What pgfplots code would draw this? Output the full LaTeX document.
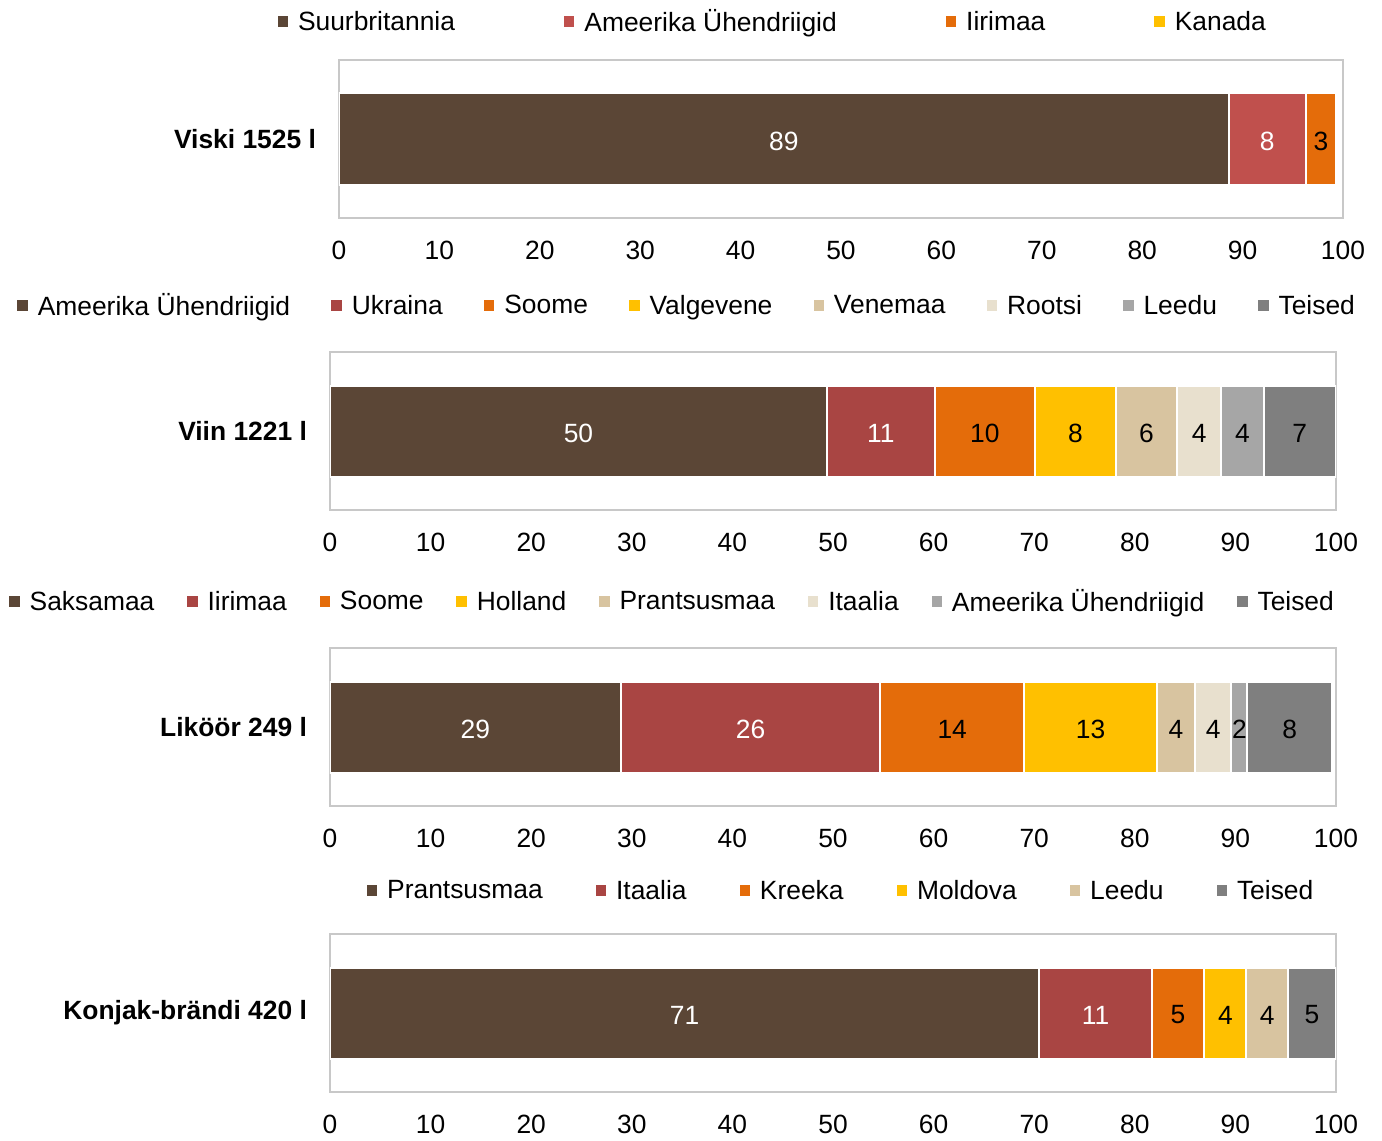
\documentclass[border=0pt]{standalone}
\usepackage{pgfplots}
\pgfplotsset{compat=1.18}
\usepackage{fontspec}
\setmainfont{Liberation Sans}

\definecolor{brownc}{RGB}{91,70,54}
\definecolor{redA}{RGB}{192,80,77}
\definecolor{redB}{RGB}{169,69,67}
\definecolor{orangec}{RGB}{228,108,10}
\definecolor{yellowc}{RGB}{255,192,0}
\definecolor{tanc}{RGB}{216,196,160}
\definecolor{beigec}{RGB}{232,224,206}
\definecolor{lgrayc}{RGB}{166,166,166}
\definecolor{dgrayc}{RGB}{127,127,127}
\definecolor{framec}{RGB}{200,200,200}

\newcommand{\fs}{\fontsize{13.2}{15.8}\selectfont}

\pgfplotsset{
  every axis plot post/.append style={
    legend image code/.code={\fill[##1,draw=none] (0pt,-2.3pt) rectangle (5.2pt,2.9pt);}},
  panel/.style={
    xbar stacked, scale only axis,
    width=503pt, height=79pt,
    xmin=0, xmax=100, ymin=-0.5, ymax=0.5,
    bar width=45.5pt,
    axis line style={draw=framec, line width=0.8pt},
    major tick length=0pt,
    xtick={0,10,...,100},
    ytick={0},
    /pgf/number format/assume math mode=true,
    tick label style={font=\fs},
    yticklabel style={font=\fs\bfseries, xshift=-8pt},
    xticklabel style={yshift=-8pt},
    legend columns=-1,
    legend style={draw=none, fill=none, font=\fs, anchor=center,
      /tikz/every odd column/.append style={column sep=3pt}},
    nodes near coords,
    point meta=explicit symbolic,
    every node near coord/.append style={anchor=center, font=\fs, yshift=-1pt},
  },
  seg/.style 2 args={fill=#1, draw=white, line width=1pt,
    every node near coord/.append style={text=#2}},
}

\begin{document}
\begin{tikzpicture}
\path (0,0) rectangle (691pt,-570pt);

% Viski
\begin{axis}[panel, at={(169.5pt,-30pt)}, anchor=north west, width=502pt,
  yticklabels={Viski 1525 l},
  legend style={at={(0.433,1.24)}, /tikz/every even column/.append style={column sep=52.5pt}}]
\addplot[seg={brownc}{white}] coordinates {(88.6,0) [89]};
\addlegendentry{Suurbritannia}
\addplot[seg={redA}{white}] coordinates {(7.7,0) [8]};
\addlegendentry{Ameerika Ühendriigid}
\addplot[seg={orangec}{black}] coordinates {(3.0,0) [3]};
\addlegendentry{Iirimaa}
\addlegendimage{fill=yellowc, draw=none}
\addlegendentry{Kanada}
\end{axis}

% Viin
\begin{axis}[panel, at={(165pt,-176pt)}, anchor=north west,
  yticklabels={Viin 1221 l},
  legend style={at={(0.356,1.291)}, /tikz/every even column/.append style={column sep=18.6pt}}]
\addplot[seg={brownc}{white}] coordinates {(49.4,0) [50]};
\addlegendentry{Ameerika Ühendriigid}
\addplot[seg={redB}{white}] coordinates {(10.7,0) [11]};
\addlegendentry{Ukraina}
\addplot[seg={orangec}{black}] coordinates {(10.0,0) [10]};
\addlegendentry{Soome}
\addplot[seg={yellowc}{black}] coordinates {(8.0,0) [8]};
\addlegendentry{Valgevene}
\addplot[seg={tanc}{black}] coordinates {(6.1,0) [6]};
\addlegendentry{Venemaa}
\addplot[seg={beigec}{black}] coordinates {(4.4,0) [4]};
\addlegendentry{Rootsi}
\addplot[seg={lgrayc}{black}] coordinates {(4.2,0) [4]};
\addlegendentry{Leedu}
\addplot[seg={dgrayc}{black}] coordinates {(7.2,0) [7]};
\addlegendentry{Teised}
\end{axis}

% Liköör
\begin{axis}[panel, at={(165pt,-324pt)}, anchor=north west,
  yticklabels={Liköör 249 l},
  legend style={at={(0.3415,1.291)}, /tikz/every even column/.append style={column sep=14.4pt}}]
\addplot[seg={brownc}{white}] coordinates {(28.9,0) [29]};
\addlegendentry{Saksamaa}
\addplot[seg={redB}{white}] coordinates {(25.8,0) [26]};
\addlegendentry{Iirimaa}
\addplot[seg={orangec}{black}] coordinates {(14.3,0) [14]};
\addlegendentry{Soome}
\addplot[seg={yellowc}{black}] coordinates {(13.2,0) [13]};
\addlegendentry{Holland}
\addplot[seg={tanc}{black}] coordinates {(3.8,0) [4]};
\addlegendentry{Prantsusmaa}
\addplot[seg={beigec}{black}] coordinates {(3.6,0) [4]};
\addlegendentry{Itaalia}
\addplot[seg={lgrayc}{black}] coordinates {(1.6,0) [2]};
\addlegendentry{Ameerika Ühendriigid}
\addplot[seg={dgrayc}{black}] coordinates {(8.4,0) [8]};
\addlegendentry{Teised}
\end{axis}

% Konjak-brändi
\begin{axis}[panel, at={(165pt,-467pt)}, anchor=north west,
  yticklabels={Konjak-brändi 420 l},
  legend style={at={(0.509,1.272)}, /tikz/every even column/.append style={column sep=24.5pt}}]
\addplot[seg={brownc}{white}] coordinates {(70.5,0) [71]};
\addlegendentry{Prantsusmaa}
\addplot[seg={redB}{white}] coordinates {(11.2,0) [11]};
\addlegendentry{Itaalia}
\addplot[seg={orangec}{black}] coordinates {(5.2,0) [5]};
\addlegendentry{Kreeka}
\addplot[seg={yellowc}{black}] coordinates {(4.2,0) [4]};
\addlegendentry{Moldova}
\addplot[seg={tanc}{black}] coordinates {(4.1,0) [4]};
\addlegendentry{Leedu}
\addplot[seg={dgrayc}{black}] coordinates {(4.8,0) [5]};
\addlegendentry{Teised}
\end{axis}
\end{tikzpicture}
\end{document}
